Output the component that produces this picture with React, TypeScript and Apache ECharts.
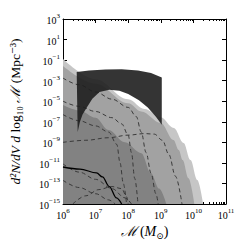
import React, { useEffect, useRef } from "react";
import * as echarts from "echarts";

// Axis ranges (log10 exponents)
const xExpMin = 6;
const xExpMax = 11;
const yExpMin = -15;
const yExpMax = 3;

// Shaded regions: upper edges, log10(M) and log10(n)
const lightLogM = [6, 7, 8, 8.5, 9, 9.4, 9.7, 9.91, 10.12, 10.3];
const lightLogN = [-0.89, -2.85, -4.8, -5.75, -6.55, -7.6, -9.06, -10.72, -12.66, -15];

const mediumLogM = [6, 7, 8, 8.4, 9, 9.39, 9.55, 9.67, 9.85, 10.03];
const mediumLogN = [-1.57, -3.3, -5.2, -6.0, -7.12, -8.77, -9.74, -10.72, -12.5, -15];

const darkLogM = [6, 6.5, 7, 7.4, 7.9, 8.4, 8.7, 8.95, 9.17];
const darkLogN = [-5.37, -5.9, -6.6, -7.8, -9.0, -10.05, -12.0, -13.5, -15];

// Black band (closed outline): upper edge then lower edge
const bandUpperLogM = [6.42, 6.8, 7.3, 7.8, 8.3, 8.7, 9.03];
const bandUpperLogN = [-2.16, -2.0, -1.92, -1.9, -2.0, -2.25, -2.7];
const bandLowerLogM = [9.03, 8.85, 8.6, 8.33, 8.0, 7.73, 7.42, 7.12, 6.9, 6.73, 6.6, 6.52, 6.45];
const bandLowerLogN = [-7.3, -6.5, -5.6, -4.9, -4.3, -3.98, -3.88, -4.1, -4.75, -5.6, -6.3, -7.0, -8.0];

// Dashed model curves
const dashedA_M = [6, 6.5, 7, 7.5, 8, 8.25, 8.4, 8.55, 8.7, 8.85, 8.92];
const dashedA_N = [-2.75, -3.4, -4.1, -4.8, -5.6, -6.5, -8.0, -10, -12, -14, -15];
const dashedE_M = [6, 6.7, 7.4, 8, 8.5, 8.8, 9.05, 9.25, 9.45, 9.65];
const dashedE_N = [-9.0, -8.8, -8.55, -8.3, -8.15, -8.2, -8.8, -10.2, -12.3, -15];
const dashedL1_M = [6, 6.5, 7, 7.5, 7.8, 8.0, 8.1, 8.2, 8.3];
const dashedL1_N = [-5.0, -5.5, -6.0, -6.6, -7.2, -8.3, -10, -12.5, -15];
const dashedL2_M = [6, 6.5, 7, 7.4, 7.65, 7.75, 7.85, 7.95];
const dashedL2_N = [-6.3, -6.9, -7.4, -8.0, -9.2, -11, -13, -15];
const dashedL3_M = [6, 6.5, 7, 7.5, 7.9, 8.1];
const dashedL3_N = [-11.1, -11.9, -12.6, -13.5, -14.4, -15];
const dashedL4_M = [6, 6.5, 7, 7.4, 7.6];
const dashedL4_N = [-12.7, -13.4, -14.0, -14.6, -15];
const dashedL5_M = [6.3, 6.7, 7.1, 7.5, 7.8, 7.95, 8.0];
const dashedL5_N = [-15, -14.2, -13.6, -13.3, -13.5, -14.3, -15];

// Solid curve
const solidLogM = [6, 6.52, 7.03, 7.21, 7.42, 7.64, 7.8];
const solidLogN = [-11.4, -11.6, -11.98, -12.37, -13.3, -14.4, -15];

const SERIF = "'Liberation Serif', 'DejaVu Serif', serif";

function pts(logM: number[], logN: number[]) {
  return logM.map((m, i) => [Math.pow(10, m), Math.pow(10, logN[i])]);
}

function expLabel(v: number) {
  const e = Math.round(Math.log10(v));
  const s = e < 0 ? "\u2212" + Math.abs(e) : String(e);
  return "{b|10}{s|" + s + "}";
}

const labelRich = {
  b: { fontSize: 10, fontFamily: SERIF, color: "#000", verticalAlign: "bottom", lineHeight: 13 },
  s: { fontSize: 7, fontFamily: SERIF, color: "#000", verticalAlign: "top", lineHeight: 13 },
};

export default function App() {
  const ref = useRef<HTMLDivElement>(null);
  useEffect(() => {
    if (!ref.current) return;
    const chart = echarts.init(ref.current, null, { renderer: "svg" });

    const area = (name: string, data: number[][], color: string) => ({
      name,
      type: "line",
      data,
      smooth: 0.35,
      smoothMonotone: "x",
      symbol: "none",
      lineStyle: { width: 0 },
      areaStyle: { color, opacity: 1, origin: "start" },
      silent: true,
      z: 1,
    });
    const dashed = (name: string, data: number[][]) => ({
      name,
      type: "line",
      data,
      smooth: 0.35,
      smoothMonotone: "x",
      symbol: "none",
      lineStyle: { color: "#3a3a3a", width: 1, type: [4, 3] },
      silent: true,
      z: 2,
    });

    const bandPts = pts(
      bandUpperLogM.concat(bandLowerLogM),
      bandUpperLogN.concat(bandLowerLogN)
    );

    const axisLine = { show: true, onZero: false, lineStyle: { color: "#000", width: 1 } };

    chart.setOption({
      animation: false,
      grid: { left: 61, top: 19, width: 165, height: 185, containLabel: false },
      xAxis: [
        {
          type: "log",
          logBase: 10,
          min: Math.pow(10, xExpMin),
          max: Math.pow(10, xExpMax),
          interval: 1,
          position: "bottom",
          axisLine,
          axisTick: { show: true, inside: true, length: 4, lineStyle: { color: "#000" } },
          minorTick: { show: true, splitNumber: 9, length: 2, lineStyle: { color: "#000" } },
          splitLine: { show: false },
          axisLabel: { formatter: expLabel, rich: labelRich, margin: 3 },
          name: "{i|\u2133} {r|(}{i|M}{u|\u2299}{r|)}",
          nameLocation: "middle",
          nameGap: 17,
          nameTextStyle: {
            rich: {
              i: { fontSize: 14, fontFamily: SERIF, fontStyle: "italic", color: "#000" },
              r: { fontSize: 14, fontFamily: SERIF, color: "#000" },
              u: { fontSize: 9, fontFamily: SERIF, color: "#000", verticalAlign: "bottom", lineHeight: 18 },
            },
          },
        },
        {
          type: "log",
          logBase: 10,
          min: Math.pow(10, xExpMin),
          max: Math.pow(10, xExpMax),
          interval: 1,
          position: "top",
          axisLine,
          axisTick: { show: true, inside: true, length: 4, lineStyle: { color: "#000" } },
          minorTick: { show: true, splitNumber: 9, length: 2, lineStyle: { color: "#000" } },
          splitLine: { show: false },
          axisLabel: { show: false },
        },
      ],
      yAxis: [
        {
          type: "log",
          logBase: 10,
          min: Math.pow(10, yExpMin),
          max: Math.pow(10, yExpMax),
          interval: 2,
          position: "left",
          axisLine,
          axisTick: { show: true, inside: true, length: 4, lineStyle: { color: "#000" } },
          splitLine: { show: false },
          axisLabel: { formatter: expLabel, rich: labelRich, margin: 3 },
          name: "{i|d\u00b2N/dV d} {r|log\u2081\u2080} {i|\u2133} {r|(Mpc\u207b\u00b3)}",
          nameLocation: "middle",
          nameRotate: 90,
          nameGap: 41,
          nameTextStyle: {
            rich: {
              i: { fontSize: 13.5, fontFamily: SERIF, fontStyle: "italic", color: "#000" },
              r: { fontSize: 13.5, fontFamily: SERIF, color: "#000" },
            },
          },
        },
        {
          type: "log",
          logBase: 10,
          min: Math.pow(10, yExpMin),
          max: Math.pow(10, yExpMax),
          interval: 2,
          position: "right",
          axisLine,
          axisTick: { show: true, inside: true, length: 4, lineStyle: { color: "#000" } },
          splitLine: { show: false },
          axisLabel: { show: false },
        },
      ],
      series: [
        area("light", pts(lightLogM, lightLogN), "#c6c6c6"),
        area("medium", pts(mediumLogM, mediumLogN), "#a2a2a2"),
        area("dark", pts(darkLogM, darkLogN), "#828282"),
        dashed("A", pts(dashedA_M, dashedA_N)),
        dashed("E", pts(dashedE_M, dashedE_N)),
        dashed("L1", pts(dashedL1_M, dashedL1_N)),
        dashed("L2", pts(dashedL2_M, dashedL2_N)),
        dashed("L3", pts(dashedL3_M, dashedL3_N)),
        dashed("L4", pts(dashedL4_M, dashedL4_N)),
        dashed("L5", pts(dashedL5_M, dashedL5_N)),
        {
          name: "band",
          type: "custom",
          data: [bandPts[0]],
          silent: true,
          z: 3,
          renderItem: (_params: any, api: any) => ({
            type: "polygon",
            shape: { points: bandPts.map((p) => api.coord(p)) },
            style: { fill: "#1e1e1e", opacity: 0.9 },
          }),
        },
        {
          name: "solid",
          type: "line",
          data: pts(solidLogM, solidLogN),
          smooth: 0.35,
          smoothMonotone: "x",
          symbol: "none",
          lineStyle: { color: "#000", width: 1.3 },
          silent: true,
          z: 4,
        },
      ],
    });
    return () => chart.dispose();
  }, []);
  return (
    <div
      ref={ref}
      style={{ position: "fixed", left: 0, top: 0, width: 249, height: 249, background: "#fff" }}
    />
  );
}
